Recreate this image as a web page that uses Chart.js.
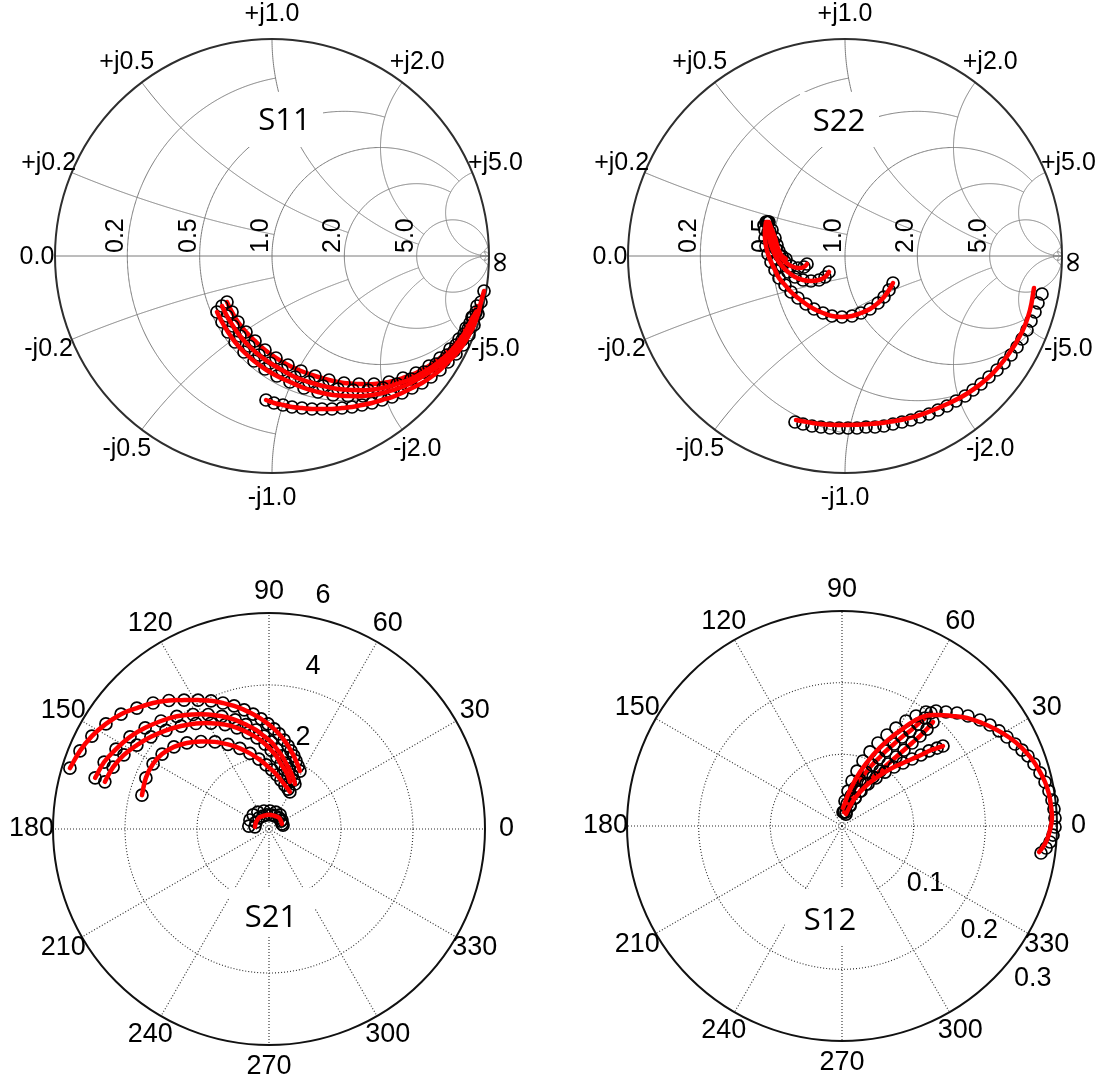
<!DOCTYPE html>
<html lang="en">
<head>
<meta charset="utf-8">
<title>S-parameters</title>
<script src="https://cdn.jsdelivr.net/npm/chart.js@4.4.1/dist/chart.umd.min.js"></script>
<style>
  html, body { margin: 0; padding: 0; background: #ffffff; }
  #page { position: relative; width: 1095px; height: 1080px; background: #ffffff; overflow: hidden; }
  #page canvas { position: absolute; left: 0; top: 0; }
</style>
</head>
<body>
<div id="page">
  <canvas id="cS11" width="1095" height="1080"></canvas>
  <canvas id="cS22" width="1095" height="1080"></canvas>
  <canvas id="cS21" width="1095" height="1080"></canvas>
  <canvas id="cS12" width="1095" height="1080"></canvas>
</div>
<script>
// ---------- Smith chart grid ----------
const smithGridValues = [0.2, 0.5, 1, 2, 5, 50];
const smithGridLimits = [1, 2, 5, 5, Infinity, Infinity];
const smithLabelValues = [0.2, 0.5, 1, 2, 5];

// ---------- polar grid ----------
const polarAngles = [0, 30, 60, 90, 120, 150, 180, 210, 240, 270, 300, 330];
const s21Rings = [2, 4, 6];
const s12Rings = [0.1, 0.2, 0.3];

// ---------- S11 (reflection coefficient, real / imaginary) ----------
const s11ReA = [-0.2535, -0.2304, -0.2028, -0.1705, -0.1290, -0.0829, -0.0323, 0.0230, 0.0829, 0.1475, 0.2120, 0.2811, 0.3502, 0.4194, 0.4885, 0.5576, 0.6221, 0.6820, 0.7419, 0.7926, 0.8387, 0.8756, 0.9032, 0.9263];
const s11ImA = [-0.2581, -0.3041, -0.3502, -0.3963, -0.4424, -0.4839, -0.5207, -0.5530, -0.5806, -0.6083, -0.6267, -0.6406, -0.6452, -0.6452, -0.6359, -0.6175, -0.5945, -0.5622, -0.5253, -0.4839, -0.4378, -0.3871, -0.3364, -0.2811];
const s11ReB = [-0.2304, -0.2074, -0.1797, -0.1475, -0.1060, -0.0599, -0.0092, 0.0461, 0.1060, 0.1705, 0.2350, 0.3041, 0.3733, 0.4424, 0.5115, 0.5760, 0.6406, 0.7005, 0.7558, 0.8065, 0.8479, 0.8848, 0.9124, 0.9401];
const s11ImB = [-0.2304, -0.2765, -0.3226, -0.3687, -0.4147, -0.4562, -0.4931, -0.5253, -0.5576, -0.5806, -0.5991, -0.6129, -0.6175, -0.6175, -0.6083, -0.5899, -0.5668, -0.5346, -0.4977, -0.4562, -0.4101, -0.3594, -0.3088, -0.2581];
const s11ReC = [-0.2074, -0.1843, -0.1567, -0.1198, -0.0783, -0.0323, 0.0184, 0.0737, 0.1336, 0.1982, 0.2627, 0.3318, 0.4009, 0.4700, 0.5392, 0.6037, 0.6636, 0.7235, 0.7742, 0.8203, 0.8618, 0.8940, 0.9217, 0.9447];
const s11ImC = [-0.2120, -0.2581, -0.3041, -0.3502, -0.3917, -0.4332, -0.4700, -0.5023, -0.5300, -0.5530, -0.5714, -0.5853, -0.5899, -0.5899, -0.5806, -0.5622, -0.5392, -0.5069, -0.4700, -0.4286, -0.3825, -0.3318, -0.2811, -0.2304];
const s11ReD = [-0.0276, 0.0092, 0.0507, 0.0922, 0.1382, 0.1843, 0.2304, 0.2765, 0.3226, 0.3687, 0.4147, 0.4608, 0.5069, 0.5530, 0.5991, 0.6452, 0.6912, 0.7327, 0.7742, 0.8111, 0.8479, 0.8802, 0.9078, 0.9309, 0.9493, 0.9631, 0.9770];
const s11ImD = [-0.6636, -0.6774, -0.6866, -0.6959, -0.7005, -0.7051, -0.7051, -0.7051, -0.7005, -0.6959, -0.6866, -0.6774, -0.6636, -0.6498, -0.6313, -0.6083, -0.5853, -0.5576, -0.5253, -0.4885, -0.4516, -0.4101, -0.3641, -0.3180, -0.2673, -0.2120, -0.1613];

// ---------- S22 ----------
const s22ReA = [-0.3641, -0.3687, -0.3687, -0.3641, -0.3548, -0.3410, -0.3226, -0.3041, -0.2765, -0.2488, -0.2166, -0.1797, -0.1429, -0.1014, -0.0599, -0.0138, 0.0323, 0.0737, 0.1152, 0.1521, 0.1797, 0.2028, 0.2212];
const s22ImA = [0.1567, 0.1198, 0.0829, 0.0461, 0.0092, -0.0276, -0.0645, -0.1014, -0.1336, -0.1659, -0.1935, -0.2212, -0.2442, -0.2627, -0.2765, -0.2811, -0.2765, -0.2627, -0.2442, -0.2166, -0.1889, -0.1567, -0.1244];
const s22ReB = [-0.3594, -0.3548, -0.3456, -0.3318, -0.3134, -0.2903, -0.2627, -0.2304, -0.1935, -0.1567, -0.1198, -0.0922, -0.0737];
const s22ImB = [0.1567, 0.1106, 0.0645, 0.0230, -0.0138, -0.0461, -0.0737, -0.0968, -0.1106, -0.1152, -0.1106, -0.0968, -0.0737];
const s22ReC = [-0.3548, -0.3456, -0.3318, -0.3180, -0.2995, -0.2765, -0.2488, -0.2166, -0.1889, -0.1751];
const s22ImC = [0.1567, 0.1106, 0.0691, 0.0323, 0.0000, -0.0276, -0.0461, -0.0553, -0.0507, -0.0369];
const s22ReD = [-0.3502, -0.3364, -0.3226, -0.3134, -0.3041, -0.2903, -0.2719];
const s22ImD = [0.1567, 0.1198, 0.0829, 0.0507, 0.0230, 0.0000, -0.0138];
const s22ReE = [-0.2304, -0.1935, -0.1521, -0.1106, -0.0691, -0.0276, 0.0138, 0.0553, 0.0968, 0.1382, 0.1797, 0.2212, 0.2627, 0.3041, 0.3456, 0.3871, 0.4286, 0.4700, 0.5115, 0.5530, 0.5899, 0.6267, 0.6636, 0.7005, 0.7327, 0.7650, 0.7926, 0.8157, 0.8387, 0.8571, 0.8756, 0.8894, 0.9078];
const s22ImE = [-0.7650, -0.7742, -0.7834, -0.7880, -0.7926, -0.7926, -0.7926, -0.7926, -0.7880, -0.7880, -0.7834, -0.7742, -0.7650, -0.7558, -0.7419, -0.7281, -0.7097, -0.6912, -0.6682, -0.6452, -0.6175, -0.5899, -0.5576, -0.5253, -0.4931, -0.4562, -0.4194, -0.3825, -0.3410, -0.2995, -0.2581, -0.2166, -0.1751];
const s22FitReE = [-0.2258, -0.1152, 0.0000, 0.1152, 0.2304, 0.3456, 0.4608, 0.5668, 0.6682, 0.7512, 0.8157, 0.8525, 0.8710];
const s22FitImE = [-0.7558, -0.7742, -0.7788, -0.7742, -0.7604, -0.7327, -0.6866, -0.6313, -0.5530, -0.4562, -0.3502, -0.2488, -0.1475];

// ---------- S21 (real / imaginary) ----------
const s21ReA = [-5.53, -5.25, -4.92, -4.53, -4.11, -3.67, -3.22, -2.78, -2.36, -1.97, -1.61, -1.28, -0.97, -0.69, -0.44, -0.22, -0.03, 0.14, 0.28, 0.42, 0.53, 0.61, 0.69, 0.75, 0.81, 0.86];
const s21ImA = [1.69, 2.17, 2.58, 2.92, 3.19, 3.36, 3.50, 3.57, 3.58, 3.58, 3.56, 3.50, 3.42, 3.31, 3.19, 3.06, 2.92, 2.78, 2.64, 2.47, 2.31, 2.17, 2.03, 1.89, 1.75, 1.61];
const s21ReB = [-4.83, -4.58, -4.25, -3.86, -3.44, -3.00, -2.56, -2.11, -1.69, -1.31, -0.94, -0.64, -0.36, -0.14, 0.06, 0.22, 0.36, 0.47, 0.56, 0.64, 0.69, 0.72];
const s21ImB = [1.42, 1.86, 2.22, 2.56, 2.81, 3.00, 3.13, 3.18, 3.18, 3.13, 3.03, 2.90, 2.75, 2.58, 2.42, 2.22, 2.03, 1.83, 1.67, 1.50, 1.36, 1.25];
const s21ReC = [-4.56, -4.33, -4.03, -3.67, -3.28, -2.86, -2.44, -2.03, -1.61, -1.22, -0.89, -0.58, -0.33, -0.11, 0.06, 0.22, 0.33, 0.44, 0.53, 0.58];
const s21ImC = [1.31, 1.72, 2.06, 2.33, 2.56, 2.74, 2.86, 2.93, 2.94, 2.90, 2.81, 2.67, 2.53, 2.36, 2.19, 2.00, 1.81, 1.64, 1.47, 1.31];
const s21ReD = [-3.53, -3.42, -3.22, -2.97, -2.64, -2.28, -1.89, -1.50, -1.14, -0.81, -0.53, -0.28, -0.08, 0.08, 0.22, 0.33, 0.44, 0.53, 0.58];
const s21ImD = [0.94, 1.42, 1.81, 2.08, 2.28, 2.39, 2.43, 2.42, 2.35, 2.24, 2.10, 1.94, 1.78, 1.64, 1.50, 1.36, 1.22, 1.11, 1.03];
const s21ReE = [-0.39, -0.36, -0.28, -0.17, -0.06, 0.06, 0.17, 0.28, 0.33, 0.36];
const s21ImE = [0.06, 0.19, 0.31, 0.36, 0.39, 0.39, 0.36, 0.31, 0.22, 0.14];
const s21ReF = [-0.56, -0.53, -0.44, -0.31, -0.14, 0.03, 0.19, 0.31, 0.36, 0.39];
const s21ImF = [0.08, 0.25, 0.39, 0.47, 0.50, 0.50, 0.47, 0.39, 0.25, 0.11];

// ---------- S12 (real / imaginary) ----------
const s12ReA = [0.0014, 0.0042, 0.0084, 0.0140, 0.0209, 0.0293, 0.0391, 0.0502, 0.0628, 0.0753, 0.0893, 0.1033, 0.1172, 0.1312, 0.1451, 0.1605, 0.1758, 0.1926, 0.2065, 0.2191, 0.2302, 0.2414, 0.2512, 0.2595, 0.2679, 0.2763, 0.2833, 0.2888, 0.2930, 0.2958, 0.2972, 0.2972, 0.2944, 0.2902, 0.2847, 0.2777];
const s12ImA = [0.0195, 0.0349, 0.0488, 0.0628, 0.0767, 0.0907, 0.1033, 0.1158, 0.1270, 0.1367, 0.1465, 0.1535, 0.1591, 0.1605, 0.1591, 0.1577, 0.1535, 0.1479, 0.1409, 0.1326, 0.1242, 0.1144, 0.1060, 0.0977, 0.0865, 0.0740, 0.0614, 0.0488, 0.0363, 0.0237, 0.0112, -0.0014, -0.0126, -0.0223, -0.0307, -0.0377];
const s12FitReA = [0.0014, 0.0112, 0.0251, 0.0433, 0.0642, 0.0879, 0.1116, 0.1326, 0.1535, 0.1744, 0.1953, 0.2163, 0.2344, 0.2498, 0.2637, 0.2749, 0.2833, 0.2888, 0.2916, 0.2930, 0.2902, 0.2860, 0.2805, 0.2749];
const s12FitImA = [0.0251, 0.0502, 0.0753, 0.0991, 0.1200, 0.1381, 0.1521, 0.1549, 0.1535, 0.1507, 0.1437, 0.1340, 0.1228, 0.1102, 0.0949, 0.0781, 0.0614, 0.0446, 0.0279, 0.0112, -0.0056, -0.0195, -0.0293, -0.0363];
const s12ReB = [0.0028, 0.0070, 0.0126, 0.0181, 0.0251, 0.0335, 0.0419, 0.0516, 0.0614, 0.0726, 0.0837, 0.0949, 0.1060, 0.1158, 0.1242];
const s12ImB = [0.0195, 0.0307, 0.0419, 0.0530, 0.0642, 0.0753, 0.0851, 0.0949, 0.1047, 0.1144, 0.1242, 0.1326, 0.1423, 0.1507, 0.1577];
const s12ReC = [0.0056, 0.0112, 0.0181, 0.0251, 0.0335, 0.0433, 0.0530, 0.0642, 0.0753, 0.0865, 0.0977, 0.1088, 0.1186, 0.1270];
const s12ImC = [0.0195, 0.0293, 0.0391, 0.0488, 0.0586, 0.0684, 0.0767, 0.0865, 0.0963, 0.1060, 0.1158, 0.1256, 0.1353, 0.1451];
const s12ReD = [0.0056, 0.0112, 0.0181, 0.0265, 0.0363, 0.0474, 0.0600, 0.0726, 0.0851, 0.0977, 0.1102, 0.1214, 0.1326, 0.1409];
const s12ImD = [0.0167, 0.0279, 0.0391, 0.0488, 0.0586, 0.0670, 0.0753, 0.0823, 0.0879, 0.0935, 0.0991, 0.1047, 0.1088, 0.1116];

// ---------- styling ----------
const LABEL_FONT = '25px "Liberation Sans", Arial, sans-serif';
const INF_FONT = '30px "DejaVu Sans", sans-serif';
const POLAR_FONT = '27px "Liberation Sans", Arial, sans-serif';
const TITLE_FONT = '31px "Open Sans", "Liberation Sans", sans-serif';
const GRID_GREY = '#7a7a7a';

// impedance z = r + jx  ->  reflection coefficient
function zToGamma(r, x) {
  const d = (r + 1) * (r + 1) + x * x;
  return [(r * r + x * x - 1) / d, (2 * x) / d];
}

function toPoints(re, im) { return re.map((v, i) => ({ x: v, y: im[i] })); }

function markers(re, im, order) {
  return {
    data: toPoints(re, im), showLine: false,
    pointRadius: 6, pointHoverRadius: 6, pointBorderWidth: 1.7,
    pointBorderColor: '#000000', pointBackgroundColor: 'rgba(0,0,0,0)',
    clip: false, order: order === undefined ? 1 : order
  };
}
function fitLine(re, im, order) {
  return {
    data: toPoints(re, im), showLine: true,
    borderColor: '#ff0000', borderWidth: 4.5, borderCapStyle: 'round', borderJoinStyle: 'round',
    pointRadius: 0, pointHoverRadius: 0, tension: 0.4, fill: false,
    clip: false, order: order === undefined ? 0 : order
  };
}

function drawTitle(ctx, cx, cy, t) {
  ctx.fillStyle = '#ffffff';
  ctx.fillRect(cx + t.box[0], cy + t.box[1], t.box[2], t.box[3]);
  ctx.fillStyle = '#000000';
  ctx.font = TITLE_FONT;
  ctx.textAlign = 'center';
  ctx.textBaseline = 'middle';
  ctx.fillText(t.text, cx + t.dx, cy + t.dy);
}

// Smith chart background: clipped resistance circles and reactance arcs
function smithGrid(title) {
  return {
    id: 'smithGrid',
    beforeDatasetsDraw(chart) {
      const ctx = chart.ctx, xs = chart.scales.x, ys = chart.scales.y;
      const cx = xs.getPixelForValue(0), cy = ys.getPixelForValue(0);
      const R = xs.getPixelForValue(1) - cx;
      const stroke = pts => {
        ctx.beginPath();
        pts.forEach((g, i) => {
          const X = xs.getPixelForValue(g[0]), Y = ys.getPixelForValue(g[1]);
          if (i === 0) ctx.moveTo(X, Y); else ctx.lineTo(X, Y);
        });
        ctx.stroke();
      };
      ctx.save();
      ctx.strokeStyle = GRID_GREY;
      ctx.lineWidth = 1;
      stroke([[-1, 0], [1, 0]]);
      const N = 500;
      smithGridValues.forEach((v, i) => {
        const lim = smithGridLimits[i];
        const rc = [];
        for (let k = 0; k <= N; k++) {
          const t = -1 + 2 * k / N;
          const xr = isFinite(lim) ? lim * t : (1 + v) * Math.tan(t * Math.PI / 2 * 0.9999);
          rc.push(zToGamma(v, xr));
        }
        stroke(rc);
        [1, -1].forEach(s => {
          const pts = [];
          for (let k = 0; k <= N; k++) {
            const t = k / N;
            const rr = isFinite(lim) ? lim * t : v * Math.tan(t * Math.PI / 2 * 0.9999);
            pts.push(zToGamma(rr, s * v));
          }
          stroke(pts);
        });
      });
      ctx.strokeStyle = '#2e2e2e';
      ctx.lineWidth = 2;
      ctx.beginPath(); ctx.arc(cx, cy, R, 0, 2 * Math.PI); ctx.stroke();

      ctx.fillStyle = '#000000';
      ctx.font = LABEL_FONT;
      ctx.textAlign = 'center';
      ctx.textBaseline = 'middle';
      smithLabelValues.forEach(v => {
        [1, -1].forEach(s => {
          const g = zToGamma(0, s * v);
          const txt = (s > 0 ? '+j' : '-j') + v.toFixed(1);
          ctx.fillText(txt, cx + (R + 25) * g[0], cy - (R + 25) * g[1]);
        });
      });
      ctx.fillText('0.0', cx - R - 18, cy + 1);
      ctx.save();
      ctx.translate(cx + R + 12, cy + 6);
      ctx.rotate(-Math.PI / 2);
      ctx.font = INF_FONT;
      ctx.fillText('\u221E', 0, 0);
      ctx.restore();
      smithLabelValues.forEach(v => {
        const gx = (v - 1) / (v + 1);
        ctx.save();
        ctx.translate(cx + R * gx - 4, cy - 3);
        ctx.rotate(-Math.PI / 2);
        ctx.textAlign = 'left';
        ctx.textBaseline = 'alphabetic';
        ctx.fillText(v.toFixed(1), 0, 0);
        ctx.restore();
      });
      drawTitle(ctx, cx, cy, title);
      ctx.restore();
    }
  };
}

// polar background: dotted spokes and rings, solid rim
function polarGrid(rings, title, ringLabel) {
  return {
    id: 'polarGrid',
    beforeDatasetsDraw(chart) {
      const ctx = chart.ctx, xs = chart.scales.x, ys = chart.scales.y;
      const rMax = rings[rings.length - 1];
      const cx = xs.getPixelForValue(0), cy = ys.getPixelForValue(0);
      const K = xs.getPixelForValue(rMax) - cx;
      const pr = v => K * v / rMax;
      ctx.save();
      ctx.strokeStyle = '#2a2a2a';
      ctx.lineWidth = 1.1;
      ctx.setLineDash([1, 2]);
      polarAngles.forEach(a => {
        const t = a * Math.PI / 180;
        ctx.beginPath();
        ctx.moveTo(cx, cy);
        ctx.lineTo(cx + K * Math.cos(t), cy - K * Math.sin(t));
        ctx.stroke();
      });
      rings.slice(0, -1).forEach(v => {
        ctx.beginPath(); ctx.arc(cx, cy, pr(v), 0, 2 * Math.PI); ctx.stroke();
      });
      ctx.setLineDash([]);
      ctx.strokeStyle = '#111111';
      ctx.lineWidth = 2;
      ctx.beginPath(); ctx.arc(cx, cy, K, 0, 2 * Math.PI); ctx.stroke();

      ctx.fillStyle = '#000000';
      ctx.font = POLAR_FONT;
      ctx.textAlign = 'center';
      ctx.textBaseline = 'middle';
      polarAngles.forEach(a => {
        const t = a * Math.PI / 180;
        ctx.fillText(String(a), cx + 1.1 * K * Math.cos(t), cy - 1.1 * K * Math.sin(t));
      });
      const ta = ringLabel.angle * Math.PI / 180;
      rings.forEach(v => {
        ctx.fillText(String(v), cx + pr(v) * Math.cos(ta) + ringLabel.dx, cy - pr(v) * Math.sin(ta) + ringLabel.dy);
      });
      drawTitle(ctx, cx, cy, title);
      ctx.restore();
    }
  };
}

function buildChart(id, pad, range, datasets, grid) {
  return new Chart(document.getElementById(id), {
    type: 'scatter',
    data: { datasets },
    options: {
      responsive: false, maintainAspectRatio: false, animation: false,
      devicePixelRatio: 1, events: [],
      layout: { padding: pad },
      scales: {
        x: { type: 'linear', min: -range, max: range, display: false },
        y: { type: 'linear', min: -range, max: range, display: false }
      },
      plugins: { legend: { display: false }, tooltip: { enabled: false }, title: { display: false } }
    },
    plugins: [grid]
  });
}

buildChart('cS11', { left: 55, top: 39, right: 606, bottom: 607 }, 1, [
  fitLine(s11ReC, s11ImC, 3),
  markers(s11ReA, s11ImA), markers(s11ReB, s11ImB), markers(s11ReC, s11ImC), markers(s11ReD, s11ImD),
  fitLine(s11ReA, s11ImA), fitLine(s11ReB, s11ImB), fitLine(s11ReD, s11ImD)
], smithGrid({ text: 'S11', dx: 12.5, dy: -135, box: [-26, -164, 77, 55] }));

buildChart('cS22', { left: 628, top: 39, right: 33, bottom: 607 }, 1, [
  markers(s22ReA, s22ImA), markers(s22ReB, s22ImB), markers(s22ReC, s22ImC), markers(s22ReD, s22ImD),
  markers(s22ReE, s22ImE),
  fitLine(s22ReA, s22ImA), fitLine(s22ReB, s22ImB), fitLine(s22ReC, s22ImC), fitLine(s22ReD, s22ImD),
  fitLine(s22FitReE, s22FitImE)
], smithGrid({ text: 'S22', dx: -6, dy: -134, box: [-45, -164, 79, 55] }));

buildChart('cS21', { left: 53, top: 613, right: 610, bottom: 35 }, 6, [
  markers(s21ReA, s21ImA), markers(s21ReB, s21ImB), markers(s21ReC, s21ImC), markers(s21ReD, s21ImD),
  markers(s21ReE, s21ImE), markers(s21ReF, s21ImF),
  fitLine(s21ReA, s21ImA), fitLine(s21ReB, s21ImB), fitLine(s21ReC, s21ImC), fitLine(s21ReD, s21ImD),
  fitLine(s21ReE, s21ImE)
], polarGrid(s21Rings, { text: 'S21', dx: 2, dy: 89, box: [-40, 59, 86, 49] }, { angle: 82, dx: 24, dy: -20 }));

buildChart('cS12', { left: 627, top: 611, right: 38, bottom: 39 }, 0.3, [
  fitLine(s12ReB, s12ImB, 3), fitLine(s12ReC, s12ImC, 3),
  markers(s12ReA, s12ImA), markers(s12ReB, s12ImB), markers(s12ReC, s12ImC), markers(s12ReD, s12ImD),
  fitLine(s12FitReA, s12FitImA), fitLine(s12ReD, s12ImD)
], polarGrid(s12Rings, { text: 'S12', dx: -12, dy: 95, box: [-57, 63, 91, 57] }, { angle: -41.6, dx: 30, dy: 9.5 }));
</script>
</body>
</html>
